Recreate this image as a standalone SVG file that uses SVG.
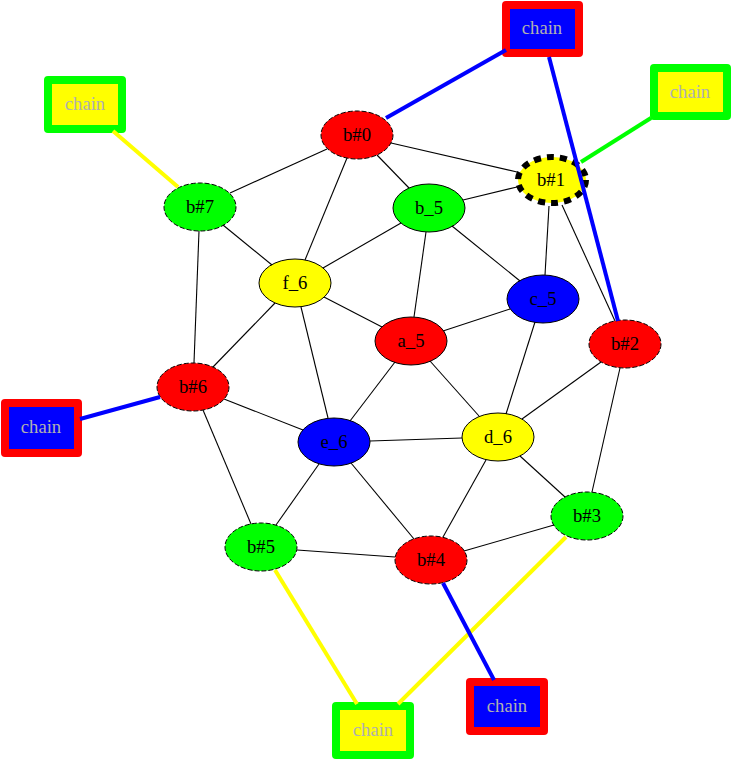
<svg xmlns="http://www.w3.org/2000/svg" width="732" height="760" viewBox="0 0 732 760">
<style>
.n ellipse{stroke:#000;stroke-width:1}
.d ellipse{stroke-dasharray:5,2}
text{font-family:"Liberation Serif","Times New Roman",serif;font-size:18.67px;text-anchor:middle;fill:#000}
.c rect{stroke-width:8;stroke-linejoin:round}
.c text{fill:#b0b0b0}
#edges line{stroke:#000;stroke-width:1.1}
#edges line.t{stroke-width:4}
</style>
<rect width="732" height="760" fill="#fff"/>
<g id="nodes">
<g id="b0" class="n d"><ellipse cx="357" cy="135" rx="36" ry="24" fill="#f00"/><text x="357" y="141">b#0</text></g>
<g id="b1" class="n"><ellipse cx="552" cy="180" rx="34" ry="23" fill="#ff0" style="stroke-width:6;stroke-dasharray:7,6"/><text x="551" y="186">b#1</text></g>
<g id="b_5" class="n"><ellipse cx="429" cy="208" rx="36" ry="24" fill="#0f0"/><text x="429" y="214">b_5</text></g>
<g id="b7" class="n d"><ellipse cx="200" cy="207" rx="36" ry="24" fill="#0f0"/><text x="200" y="213">b#7</text></g>
<g id="f_6" class="n"><ellipse cx="295" cy="283" rx="36" ry="24" fill="#ff0"/><text x="295" y="289">f_6</text></g>
<g id="c_5" class="n"><ellipse cx="543" cy="299" rx="36" ry="24" fill="#00f"/><text x="543" y="305">c_5</text></g>
<g id="a_5" class="n"><ellipse cx="411" cy="341" rx="36" ry="24" fill="#f00"/><text x="411" y="347">a_5</text></g>
<g id="b2" class="n d"><ellipse cx="625" cy="344" rx="36" ry="24" fill="#f00"/><text x="625" y="350">b#2</text></g>
<g id="b6" class="n d"><ellipse cx="193" cy="387" rx="36" ry="24" fill="#f00"/><text x="193" y="393">b#6</text></g>
<g id="e_6" class="n"><ellipse cx="334" cy="442" rx="36" ry="24" fill="#00f"/><text x="334" y="448">e_6</text></g>
<g id="d_6" class="n"><ellipse cx="498" cy="437" rx="36" ry="24" fill="#ff0"/><text x="498" y="443">d_6</text></g>
<g id="b3" class="n d"><ellipse cx="587" cy="516" rx="36" ry="24" fill="#0f0"/><text x="587" y="522">b#3</text></g>
<g id="b5" class="n d"><ellipse cx="261" cy="547" rx="36" ry="24" fill="#0f0"/><text x="261" y="553">b#5</text></g>
<g id="b4" class="n d"><ellipse cx="431" cy="560" rx="36" ry="24" fill="#f00"/><text x="431" y="566">b#4</text></g>
<g id="chain_top" class="c"><rect x="506" y="5" width="73" height="48" fill="#00f" stroke="#f00"/><text x="542" y="34">chain</text></g>
<g id="chain_tl" class="c"><rect x="48" y="80" width="74" height="49" fill="#ff0" stroke="#0f0"/><text x="85" y="110">chain</text></g>
<g id="chain_r" class="c"><rect x="654" y="68" width="73" height="48" fill="#ff0" stroke="#0f0"/><text x="690" y="98">chain</text></g>
<g id="chain_l" class="c"><rect x="5" y="403" width="73" height="50" fill="#00f" stroke="#f00"/><text x="41" y="433">chain</text></g>
<g id="chain_b" class="c"><rect x="470" y="682" width="74" height="49" fill="#00f" stroke="#f00"/><text x="507" y="712">chain</text></g>
<g id="chain_bc" class="c"><rect x="336" y="706" width="74" height="49" fill="#ff0" stroke="#0f0"/><text x="373" y="736">chain</text></g>
</g>
<g id="edges">
<line x1="327" y1="149" x2="230" y2="193"/>
<line x1="347" y1="158" x2="305" y2="260"/>
<line x1="377" y1="155" x2="409" y2="188"/>
<line x1="391" y1="143" x2="517" y2="172"/>
<line x1="463" y1="200" x2="517" y2="187"/>
<line x1="401" y1="223" x2="323" y2="268"/>
<line x1="426" y1="232" x2="414" y2="317"/>
<line x1="452" y1="226" x2="520" y2="281"/>
<line x1="223" y1="225" x2="272" y2="265"/>
<line x1="199" y1="231" x2="194" y2="363"/>
<line x1="549" y1="206" x2="545" y2="275"/>
<line x1="562" y1="205" x2="615" y2="321"/>
<line x1="324" y1="297" x2="382" y2="327"/>
<line x1="275" y1="303" x2="213" y2="367"/>
<line x1="301" y1="307" x2="328" y2="418"/>
<line x1="510" y1="309" x2="443" y2="331"/>
<line x1="535" y1="322" x2="506" y2="414"/>
<line x1="395" y1="362" x2="350" y2="421"/>
<line x1="430" y1="361" x2="479" y2="416"/>
<line x1="601" y1="362" x2="522" y2="419"/>
<line x1="620" y1="368" x2="592" y2="492"/>
<line x1="224" y1="399" x2="303" y2="430"/>
<line x1="203" y1="410" x2="251" y2="524"/>
<line x1="370" y1="441" x2="462" y2="438"/>
<line x1="319" y1="464" x2="276" y2="525"/>
<line x1="351" y1="463" x2="414" y2="539"/>
<line x1="486" y1="460" x2="443" y2="537"/>
<line x1="520" y1="456" x2="565" y2="497"/>
<line x1="297" y1="550" x2="395" y2="557"/>
<line x1="464" y1="551" x2="554" y2="525"/>
<line class="t" x1="386" y1="118" x2="506" y2="50" style="stroke:#00f"/>
<line class="t" x1="618" y1="321" x2="549" y2="57" style="stroke:#00f"/>
<line class="t" x1="581" y1="162" x2="651" y2="118" style="stroke:#0f0"/>
<line class="t" x1="178" y1="187" x2="113" y2="131" style="stroke:#ff0"/>
<line class="t" x1="160" y1="397" x2="80" y2="419" style="stroke:#00f"/>
<line class="t" x1="275" y1="570" x2="357" y2="704" style="stroke:#ff0"/>
<line class="t" x1="566" y1="537" x2="398" y2="704" style="stroke:#ff0"/>
<line class="t" x1="443" y1="583" x2="494" y2="680" style="stroke:#00f"/>
</g>
</svg>
